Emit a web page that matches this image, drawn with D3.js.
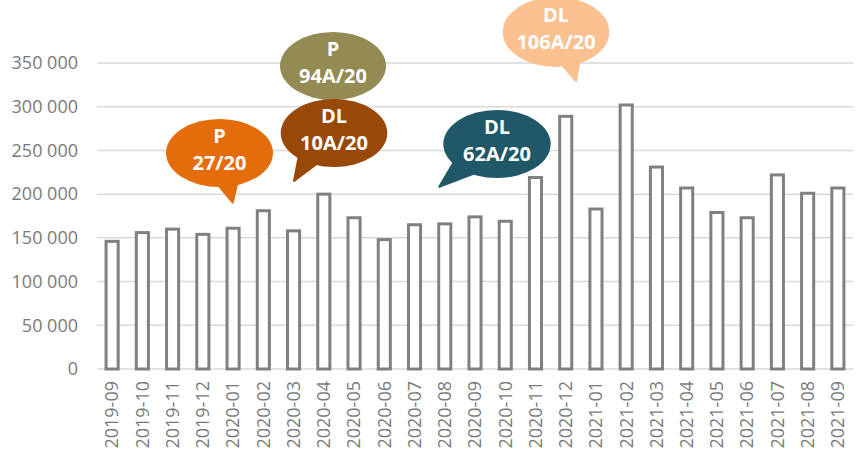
<!DOCTYPE html>
<html lang="en">
<head>
<meta charset="UTF-8">
<title>Monthly volume</title>
<script src="https://d3js.org/d3.v7.min.js"></script>
<style>
  html, body { margin: 0; padding: 0; background: #fff; }
  svg { display: block; font-family: "Open Sans", sans-serif; }
</style>
</head>
<body>
<div id="chart"></div>
<script>
// data
const months = ["2019-09","2019-10","2019-11","2019-12","2020-01","2020-02","2020-03","2020-04",
  "2020-05","2020-06","2020-07","2020-08","2020-09","2020-10","2020-11","2020-12",
  "2021-01","2021-02","2021-03","2021-04","2021-05","2021-06","2021-07","2021-08","2021-09"];
const values = [146000,156000,160000,154000,161000,181000,158000,200000,
  173000,148000,165000,166000,174000,169000,219000,289000,
  183000,302000,231000,207000,179000,173000,222000,201000,207000];
const yTicks = [0,50000,100000,150000,200000,250000,300000,350000];

// callouts
const calloutLines = [["P","94A/20"],["P","27/20"],["DL","10A/20"],["DL","62A/20"],["DL","106A/20"]];
const calloutColors = ["#948a54","#e46c0a","#984807","#215868","#fac090"];

const width = 860, height = 461;
const margin = {top: 10, right: 7, bottom: 92, left: 97};

const svg = d3.select("#chart").append("svg")
  .attr("width", width).attr("height", height);

const x = d3.scaleBand()
  .domain(months)
  .range([margin.left, width - margin.right])
  .paddingInner(0.6)
  .paddingOuter(0.3);

const y = d3.scaleLinear()
  .domain([0, 350000])
  .range([369, 63]);

const fmt = v => d3.format(",")(v).replace(/,/g, " ");

// gridlines
svg.append("g")
  .selectAll("line")
  .data(yTicks)
  .join("line")
  .attr("x1", margin.left)
  .attr("x2", width - margin.right)
  .attr("y1", d => y(d))
  .attr("y2", d => y(d))
  .attr("stroke", "#d9d9d9")
  .attr("stroke-width", 1.5);

// y labels
svg.append("g")
  .selectAll("text")
  .data(yTicks)
  .join("text")
  .attr("x", 78)
  .attr("y", d => y(d))
  .attr("dy", "0.35em")
  .attr("text-anchor", "end")
  .attr("font-size", 18)
  .attr("fill", "#7a7a7a")
  .text(fmt);

// bars
svg.append("g")
  .selectAll("rect")
  .data(values)
  .join("rect")
  .attr("x", (d, i) => x(months[i]))
  .attr("y", d => y(d))
  .attr("width", x.bandwidth())
  .attr("height", d => y(0) - y(d))
  .attr("fill", "#fff")
  .attr("stroke", "#808080")
  .attr("stroke-width", 3);

// x labels
svg.append("g")
  .selectAll("text")
  .data(months)
  .join("text")
  .attr("transform", d => `translate(${x(d) + x.bandwidth() / 2}, 381) rotate(-90)`)
  .attr("dy", "0.35em")
  .attr("text-anchor", "end")
  .attr("font-size", 18)
  .attr("fill", "#7a7a7a")
  .text(d => d);

// speech bubbles: centre, tail base and tip
const bubbleShape = [
  {cx: 333, cy: 66, rx: 53, ry: 34, tail: [[320, 90], [342, 92], [330, 112]]},
  {cx: 219.5, cy: 153, rx: 53.5, ry: 34, tail: [[214, 180], [238, 180], [232.7, 202.7]]},
  {cx: 334, cy: 133, rx: 53.3, ry: 34, tail: [[300, 150], [322, 160], [294, 181]]},
  {cx: 497, cy: 144, rx: 53.7, ry: 34, tail: [[455, 160], [478, 172], [439.3, 186.7]]},
  {cx: 556, cy: 32, rx: 53.3, ry: 35, tail: [[558, 60], [580, 58], [576, 81]]}
];

const bubbles = svg.append("g");
calloutLines.forEach((lines, i) => {
  const s = bubbleShape[i];
  const g = bubbles.append("g");
  g.append("path")
    .attr("d", d3.line().curve(d3.curveLinearClosed)(s.tail))
    .attr("fill", calloutColors[i])
    .attr("stroke", calloutColors[i])
    .attr("stroke-width", 2)
    .attr("stroke-linejoin", "round");
  g.append("ellipse")
    .attr("cx", s.cx).attr("cy", s.cy)
    .attr("rx", s.rx).attr("ry", s.ry)
    .attr("fill", calloutColors[i]);
  g.selectAll("text")
    .data(lines)
    .join("text")
    .attr("x", s.cx)
    .attr("y", (d, j) => s.cy - 10 + j * 27)
    .attr("text-anchor", "middle")
    .attr("font-size", 20)
    .attr("font-weight", "bold")
    .attr("fill", "#fff")
    .text(d => d);
});
</script>
</body>
</html>
